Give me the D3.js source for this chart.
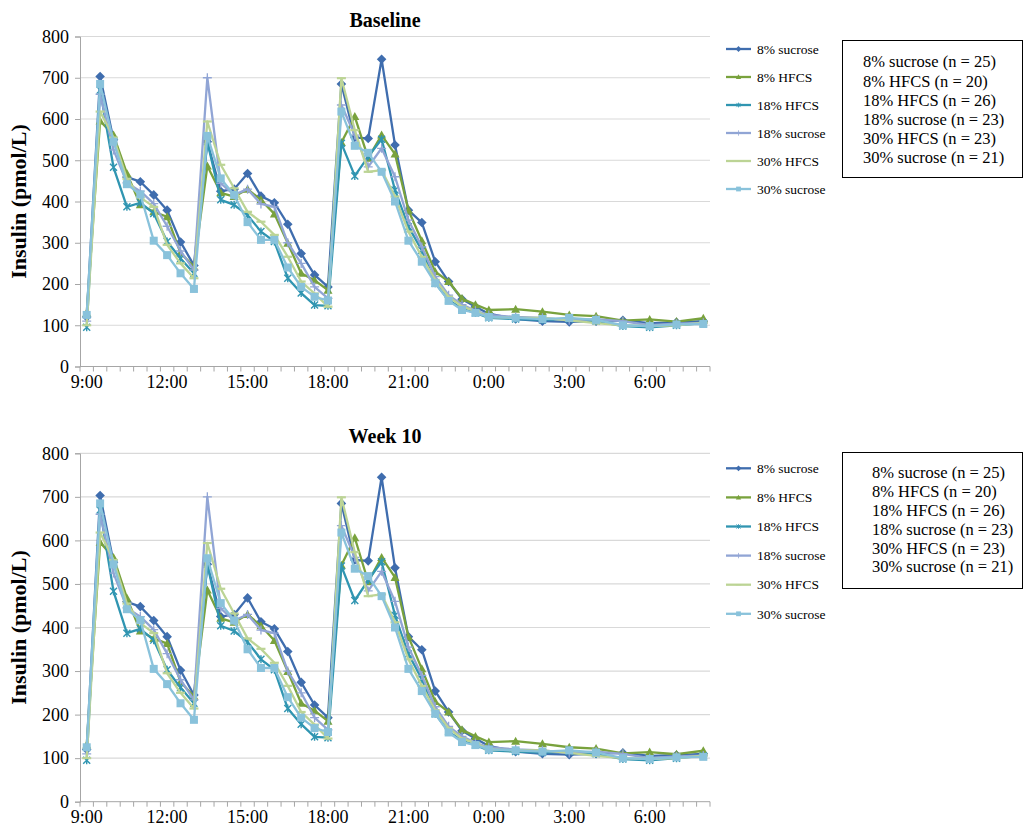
<!DOCTYPE html>
<html>
<head>
<meta charset="utf-8">
<script src="https://cdn.jsdelivr.net/npm/d3@7"></script>
<style>
  body { margin: 0; background: #fff; }
  svg text { font-family: "Liberation Serif", "Times New Roman", serif; }
</style>
</head>
<body>
<div id="chart"></div>
<script>
// x categories: every 30 minutes from 9:00 to 8:00 next morning
var categories = [
  "9:00", "9:30", "10:00", "10:30", "11:00", "11:30", "12:00", "12:30",
  "13:00", "13:30", "14:00", "14:30", "15:00", "15:30", "16:00", "16:30",
  "17:00", "17:30", "18:00", "18:30", "19:00", "19:30", "20:00", "20:30",
  "21:00", "21:30", "22:00", "22:30", "23:00", "23:30", "0:00", "0:30",
  "1:00", "1:30", "2:00", "2:30", "3:00", "3:30", "4:00", "4:30",
  "5:00", "5:30", "6:00", "6:30", "7:00", "7:30", "8:00"
];
var tickLabels = ["9:00", "12:00", "15:00", "18:00", "21:00", "0:00", "3:00", "6:00"];
var yTicks = [0, 100, 200, 300, 400, 500, 600, 700, 800];

// times at which blood was sampled
var sampleTimes = [
  "9:00", "9:30", "10:00", "10:30", "11:00", "11:30", "12:00", "12:30",
  "13:00", "13:30", "14:00", "14:30", "15:00", "15:30", "16:00", "16:30",
  "17:00", "17:30", "18:00", "18:30", "19:00", "19:30", "20:00", "20:30",
  "21:00", "21:30", "22:00", "22:30", "23:00", "23:30", "0:00",
  "1:00", "2:00", "3:00", "4:00", "5:00", "6:00", "7:00", "8:00"
];

var sucrose8 = [120, 703, 550, 459, 448, 416, 379, 302, 245, 545, 425, 430, 468, 413, 397, 345,
  274, 222, 193, 685, 555, 553, 745, 537, 379, 349, 254, 206, 163, 145, 128,
  115, 110, 108, 110, 112, 105, 107, 110];
var hfcs8 = [130, 595, 561, 468, 392, 375, 363, 275, 242, 486, 421, 412, 430, 404, 370, 299,
  226, 209, 185, 543, 606, 505, 561, 515, 379, 305, 230, 206, 165, 150, 137,
  139, 133, 125, 122, 111, 114, 109, 117];
var hfcs18 = [95, 670, 483, 387, 397, 371, 303, 262, 226, 545, 404, 392, 367, 327, 303, 214,
  178, 149, 147, 541, 462, 509, 551, 428, 339, 282, 202, 161, 140, 130, 118,
  115, 113, 115, 110, 98, 95, 100, 105];
var sucrose18 = [110, 660, 525, 445, 425, 395, 340, 280, 234, 700, 444, 416, 430, 394, 387, 300,
  250, 193, 165, 634, 561, 484, 529, 460, 355, 290, 218, 173, 150, 135, 125,
  120, 118, 112, 115, 110, 100, 104, 106];
var hfcs30 = [100, 618, 555, 455, 410, 387, 295, 250, 214, 594, 489, 432, 375, 351, 319, 266,
  206, 177, 145, 699, 573, 472, 476, 412, 327, 266, 210, 169, 145, 135, 120,
  118, 118, 112, 105, 100, 98, 100, 106];
var sucrose30 = [125, 685, 545, 442, 417, 305, 270, 226, 188, 559, 456, 416, 350, 307, 307, 240,
  193, 169, 160, 618, 535, 518, 472, 400, 305, 254, 202, 159, 137, 130, 120,
  118, 115, 118, 113, 100, 98, 102, 103];

var seriesNames = ["8% sucrose", "8% HFCS", "18% HFCS", "18% sucrose", "30% HFCS", "30% sucrose"];
var seriesValues = [sucrose8, hfcs8, hfcs18, sucrose18, hfcs30, sucrose30];
var boxLabels = [
  "8% sucrose (n = 25)", "8% HFCS (n = 20)", "18% HFCS (n = 26)",
  "18% sucrose (n = 23)", "30% HFCS (n = 23)", "30% sucrose (n = 21)"
];

var colors = ["#3f6dae", "#79a23d", "#3095b1", "#91a5d5", "#bcd495", "#89c2db"];
var markers = ["diamond", "triangle", "star", "plus", "dash", "square"];

var W = 1025, H = 827;
var svg = d3.select("#chart").append("svg").attr("width", W).attr("height", H);

var panels = [
  { title: "Baseline", top: 36.5, bottom: 366.5, titleY: 27,
    legY: 49, legStep: 28, boxY: 40, boxH: 137, boxTextX: 863, boxTextY: 61.7, boxStep: 19.2 },
  { title: "Week 10", top: 453.3, bottom: 801.7, titleY: 443,
    legY: 468.3, legStep: 29.1, boxY: 452, boxH: 136, boxTextX: 872, boxTextY: 472.7, boxStep: 18.8 }
];

var left = 80, right = 710;

// marker shapes, drawn around (0,0)
function drawMarker(g, type, color) {
  if (type == "diamond") {
    g.append("path").attr("d", "M0,-4.8L4.8,0L0,4.8L-4.8,0Z").attr("fill", color);
  } else if (type == "triangle") {
    g.append("path").attr("d", "M0,-4.5L4.5,3.5L-4.5,3.5Z").attr("fill", color);
  } else if (type == "square") {
    g.append("rect").attr("x", -4).attr("y", -4).attr("width", 8).attr("height", 8).attr("fill", color);
  } else if (type == "star") {
    g.append("path").attr("d", "M-3.5,-3.5L3.5,3.5M-3.5,3.5L3.5,-3.5M0,-4L0,4")
      .attr("stroke", color).attr("stroke-width", 1.4);
  } else if (type == "plus") {
    g.append("path").attr("d", "M-4.5,0L4.5,0M0,-4.5L0,4.5")
      .attr("stroke", color).attr("stroke-width", 1.3);
  } else if (type == "dash") {
    g.append("path").attr("d", "M-4.5,0L4.5,0").attr("stroke", color).attr("stroke-width", 2.2);
  }
}

var x = d3.scaleBand().domain(categories).range([left, right]).padding(0);

panels.forEach(function (p) {
  var y = d3.scaleLinear().domain([0, 800]).range([p.bottom, p.top]);
  var g = svg.append("g");

  // gridlines
  g.append("g")
    .selectAll("line")
    .data(yTicks.slice(1))
    .enter()
    .append("line")
    .attr("x1", left)
    .attr("x2", right)
    .attr("y1", function (d) { return y(d); })
    .attr("y2", function (d) { return y(d); })
    .attr("stroke", "#d9d9d9")
    .attr("stroke-width", 1.2);

  // y axis
  var yAxis = g.append("g")
    .attr("transform", "translate(" + left + ",0)")
    .call(d3.axisLeft(y).tickValues(yTicks).tickSize(5).tickPadding(6).tickFormat(d3.format("d")));
  yAxis.attr("font-family", null);
  yAxis.selectAll("path, line").attr("stroke", "#a6a6a6");
  yAxis.selectAll("text").attr("font-size", 18).attr("fill", "#000");

  // x axis: ticks between categories, labels every 3 hours
  var xAxis = g.append("g").attr("transform", "translate(0," + p.bottom + ")");
  xAxis.append("line").attr("x1", left).attr("x2", right).attr("stroke", "#a6a6a6");
  var edges = categories.map(function (c) { return x(c); }).concat([right]);
  xAxis.selectAll("line.tk")
    .data(edges)
    .enter()
    .append("line")
    .attr("class", "tk")
    .attr("x1", function (d) { return d; })
    .attr("x2", function (d) { return d; })
    .attr("y1", 0)
    .attr("y2", 5)
    .attr("stroke", "#a6a6a6");
  xAxis.selectAll("text")
    .data(tickLabels)
    .enter()
    .append("text")
    .attr("x", function (d) { return x(d) + x.bandwidth() / 2; })
    .attr("y", 21)
    .attr("text-anchor", "middle")
    .attr("font-size", 18)
    .text(function (d) { return d; });

  // title
  g.append("text")
    .attr("x", 385)
    .attr("y", p.titleY)
    .attr("text-anchor", "middle")
    .attr("font-size", 20)
    .attr("font-weight", "bold")
    .text(p.title);

  // y axis title
  g.append("text")
    .attr("transform", "translate(26," + (p.top + p.bottom) / 2 + ")rotate(-90)")
    .attr("text-anchor", "middle")
    .attr("font-size", 22)
    .attr("font-weight", "bold")
    .text("Insulin (pmol/L)");

  // series
  var line = d3.line()
    .x(function (d) { return x(d.t) + x.bandwidth() / 2; })
    .y(function (d) { return y(d.v); });

  seriesValues.forEach(function (vals, i) {
    var pts = sampleTimes.map(function (t, j) { return { t: t, v: vals[j] }; });
    g.append("path")
      .datum(pts)
      .attr("fill", "none")
      .attr("stroke", colors[i])
      .attr("stroke-width", 2.3)
      .attr("stroke-linejoin", "round")
      .attr("d", line);
    pts.forEach(function (d) {
      var m = g.append("g")
        .attr("transform", "translate(" + (x(d.t) + x.bandwidth() / 2) + "," + y(d.v) + ")");
      drawMarker(m, markers[i], colors[i]);
    });
  });

  // legend
  seriesNames.forEach(function (name, i) {
    var ly = p.legY + i * p.legStep;
    g.append("line")
      .attr("x1", 726).attr("x2", 751)
      .attr("y1", ly).attr("y2", ly)
      .attr("stroke", colors[i]).attr("stroke-width", 2.3);
    var m = g.append("g").attr("transform", "translate(738.5," + ly + ") scale(0.6)");
    drawMarker(m, markers[i], colors[i]);
    g.append("text")
      .attr("x", 757)
      .attr("y", ly)
      .attr("dy", "0.35em")
      .attr("font-size", 13.5)
      .text(name);
  });

  // n box
  g.append("rect")
    .attr("x", 842.5)
    .attr("y", p.boxY + 0.5)
    .attr("width", 180)
    .attr("height", p.boxH)
    .attr("fill", "none")
    .attr("stroke", "#000")
    .attr("stroke-width", 1);
  boxLabels.forEach(function (t, i) {
    g.append("text")
      .attr("x", p.boxTextX)
      .attr("y", p.boxTextY + i * p.boxStep)
      .attr("dy", "0.35em")
      .attr("font-size", 16.5)
      .text(t);
  });
});
</script>
</body>
</html>
